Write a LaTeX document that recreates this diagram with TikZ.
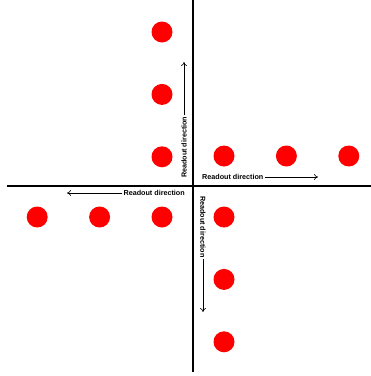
\documentclass[tikz,border=0pt]{standalone}
\usepackage{fontspec}
\setsansfont{Liberation Sans}
\usepackage{tikz}
\usetikzlibrary{positioning,arrows.meta}

\tikzset{
  pixel/.style={circle, fill=red, minimum size=21pt, inner sep=0pt},
  readout/.style={font=\sffamily\bfseries\fontsize{7.2}{8}\selectfont, inner sep=1pt},
  axis/.style={line width=1.3pt},
  dirarrow/.style={-{To[length=4pt, width=6pt]}, line width=0.6pt}
}

\begin{document}
\begin{tikzpicture}[x=1pt, y=-1pt]
\useasboundingbox (0,0) rectangle (371,376);
% axes
\draw[axis] (193,0) -- (193,372);
\draw[axis] (7,186) -- (371,186);
% pixels, top
\node[pixel] (t1) at (162,32) {};
\node[pixel, below=41pt of t1] (t2) {};
\node[pixel, below=41pt of t2] (t3) {};
% pixels, right
\node[pixel] (r1) at (224,156) {};
\node[pixel, right=41pt of r1] (r2) {};
\node[pixel, right=41pt of r2] (r3) {};
% pixels, left
\node[pixel] (l1) at (162,217) {};
\node[pixel, left=41pt of l1] (l2) {};
\node[pixel, left=41pt of l2] (l3) {};
% pixels, bottom
\node[pixel] (b1) at (224,217) {};
\node[pixel, below=41pt of b1] (b2) {};
\node[pixel, below=41pt of b2] (b3) {};
% readout directions
\node[readout, rotate=90, anchor=west] (lbltop) at (184,179) {Readout direction};
\coordinate (endtop) at (184,62);
\draw[dirarrow] (lbltop.east) -- (endtop);
\node[readout, anchor=west] (lblright) at (201,177) {Readout direction};
\coordinate (endright) at (318,177);
\draw[dirarrow] (lblright.east) -- (endright);
\node[readout, anchor=east] (lblleft) at (186,193) {Readout direction};
\coordinate (endleft) at (67,193);
\draw[dirarrow] (lblleft.west) -- (endleft);
\node[readout, rotate=-90, anchor=west] (lblbottom) at (203,195) {Readout direction};
\coordinate (endbottom) at (203,312);
\draw[dirarrow] (lblbottom.east) -- (endbottom);
\end{tikzpicture}
\end{document}
